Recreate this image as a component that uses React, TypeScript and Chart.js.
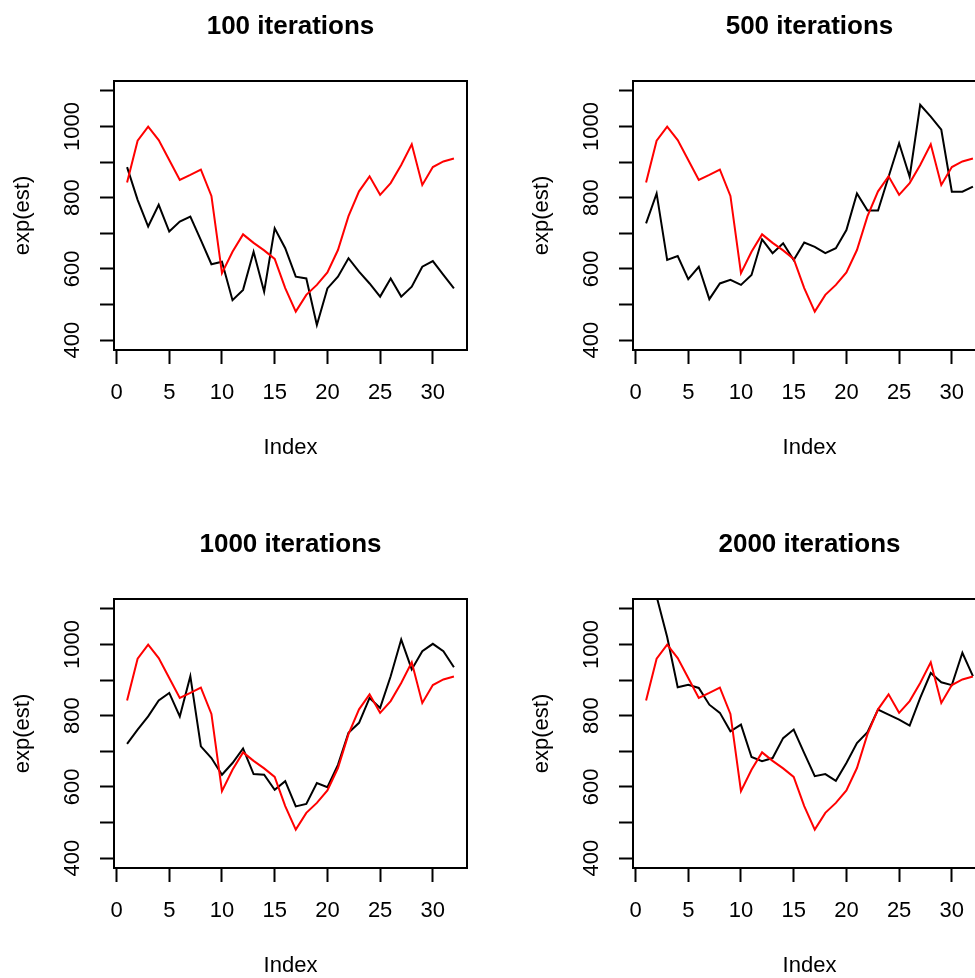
import React, { useEffect, useRef } from 'react';
import { Chart, registerables } from 'chart.js';

Chart.register(...registerables);

// ---- data ----
const indexValues = [1, 2, 3, 4, 5, 6, 7, 8, 9, 10, 11, 12, 13, 14, 15, 16, 17, 18, 19, 20, 21, 22, 23, 24, 25, 26, 27, 28, 29, 30, 31, 32];

const trueValues = [843, 960, 1000, 962, 906, 850, 864, 879, 805, 588, 648, 697, 673, 652, 628, 546, 480, 527, 555, 590, 653, 748, 818, 860, 808, 841, 892, 950, 836, 886, 902, 910];

const est100 = [886, 794, 719, 780, 705, 733, 747, 681, 613, 620, 512, 541, 648, 536, 714, 658, 578, 573, 442, 545, 578, 630, 592, 559, 522, 573, 522, 550, 606, 622, 583, 545];

const est500 = [728, 812, 625, 636, 571, 606, 515, 559, 569, 555, 583, 683, 644, 672, 625, 674, 662, 644, 658, 709, 812, 764, 764, 859, 953, 859, 1061, 1028, 991, 817, 817, 831];

const est1000 = [721, 761, 798, 843, 864, 798, 911, 714, 681, 634, 667, 708, 636, 634, 592, 616, 545, 552, 611, 599, 662, 752, 780, 850, 822, 911, 1014, 930, 981, 1002, 981, 936];

const est2000 = [1250, 1135, 1021, 880, 887, 878, 831, 808, 756, 775, 684, 672, 681, 737, 761, 695, 630, 636, 617, 667, 723, 754, 817, 803, 789, 772, 850, 920, 894, 886, 977, 911];

const panelTitles = ['100 iterations', '500 iterations', '1000 iterations', '2000 iterations'];

const xTickValues = [0, 5, 10, 15, 20, 25, 30];
const yTickValues = [400, 500, 600, 700, 800, 900, 1000, 1100];
const yLabelValues = [400, 600, 800, 1000];

const FONT = "'Liberation Sans', Arial, Helvetica, sans-serif";

Chart.defaults.color = '#000';
Chart.defaults.font.family = FONT;

function Panel(props: { title: string; est: number[]; left: number; top: number }) {
  const ref = useRef<HTMLCanvasElement>(null);

  useEffect(() => {
    const canvas = ref.current;
    if (!canvas) return;

    const boxPlugin = {
      id: 'rbox',
      afterDatasetsDraw(chart: any) {
        const { ctx, chartArea: a } = chart;
        ctx.save();
        ctx.strokeStyle = '#000';
        ctx.lineWidth = 2;
        ctx.strokeRect(a.left, a.top, a.right - a.left, a.bottom - a.top);
        ctx.restore();
      },
    };

    const chart = new Chart(canvas, {
      type: 'line',
      data: {
        datasets: [
          {
            label: 'true',
            data: indexValues.map((x, i) => ({ x, y: trueValues[i] })),
            borderColor: '#ff0000',
            borderWidth: 2,
            pointRadius: 0,
            tension: 0,
            fill: false,
          },
          {
            label: 'est',
            data: indexValues.map((x, i) => ({ x, y: props.est[i] })),
            borderColor: '#000000',
            borderWidth: 2,
            pointRadius: 0,
            tension: 0,
            fill: false,
          },
        ],
      },
      options: {
        responsive: false,
        animation: false,
        devicePixelRatio: 1,
        events: [],
        layout: { padding: { left: 0, top: 0, right: 51, bottom: 0 } },
        plugins: {
          legend: { display: false },
          tooltip: { enabled: false },
          title: {
            display: true,
            text: props.title,
            fullSize: false,
            color: '#000',
            font: { size: 26, weight: 'bold', family: FONT },
            padding: { top: 10.9, bottom: 38.9 },
          },
        },
        scales: {
          x: {
            type: 'linear',
            min: -0.24,
            max: 33.24,
            afterBuildTicks: (s: any) => {
              s.ticks = xTickValues.map((v) => ({ value: v }));
            },
            afterFit: (s: any) => {
              s.height = 168;
            },
            ticks: {
              color: '#000',
              font: { size: 22, family: FONT },
              padding: 15.8,
              maxRotation: 0,
              minRotation: 0,
              autoSkip: false,
              callback: (v: any) => String(v),
            },
            grid: {
              drawOnChartArea: false,
              drawTicks: true,
              tickLength: 14,
              tickColor: '#000',
              tickWidth: 2,
            },
            border: { display: true, color: '#000', width: 2 },
            title: {
              display: true,
              text: 'Index',
              color: '#000',
              font: { size: 22, family: FONT },
              padding: { top: 0, bottom: 56.8 },
            },
          },
          y: {
            type: 'linear',
            min: 372,
            max: 1128,
            afterBuildTicks: (s: any) => {
              s.ticks = yTickValues.map((v) => ({ value: v }));
            },
            afterFit: (s: any) => {
              s.width = 114;
            },
            ticks: {
              color: '#000',
              font: { size: 22, family: FONT },
              padding: 2.5,
              minRotation: 90,
              maxRotation: 90,
              crossAlign: 'center',
              autoSkip: false,
              callback: (v: any) => (yLabelValues.includes(Number(v)) ? String(v) : ''),
            },
            grid: {
              drawOnChartArea: false,
              drawTicks: true,
              tickLength: 14,
              tickColor: '#000',
              tickWidth: 2,
            },
            border: { display: true, color: '#000', width: 2 },
            title: {
              display: true,
              text: 'exp(est)',
              color: '#000',
              font: { size: 22, family: FONT },
              padding: { top: 9.8, bottom: 0 },
            },
          },
        },
      } as any,
      plugins: [boxPlugin],
    });

    return () => chart.destroy();
  }, [props.title, props.est]);

  return (
    <canvas
      ref={ref}
      width={518}
      height={518}
      style={{ position: 'absolute', left: props.left, top: props.top, width: 518, height: 518 }}
    />
  );
}

export default function App() {
  return (
    <div
      style={{
        position: 'absolute',
        left: 0,
        top: 0,
        width: 975,
        height: 978,
        overflow: 'hidden',
        background: '#ffffff',
      }}
    >
      <Panel title={panelTitles[0]} est={est100} left={0} top={0} />
      <Panel title={panelTitles[1]} est={est500} left={519} top={0} />
      <Panel title={panelTitles[2]} est={est1000} left={0} top={518} />
      <Panel title={panelTitles[3]} est={est2000} left={519} top={518} />
    </div>
  );
}
